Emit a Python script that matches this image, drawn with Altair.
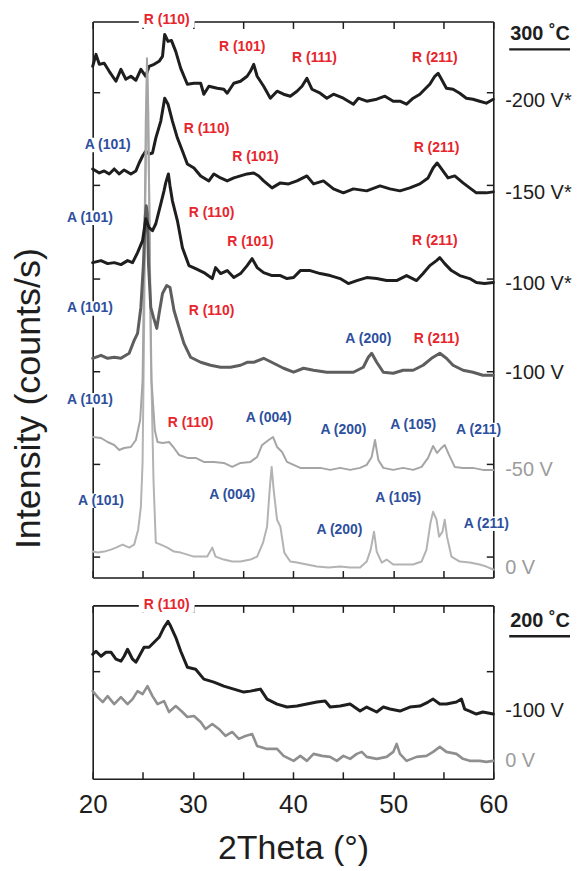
import altair as alt
import pandas as pd

# ---------------- data ----------------
# 2Theta (deg) and intensity (arbitrary, vertically offset units)
X_TICKS = [20, 25, 30, 35, 40, 45, 50, 55, 60]
X_LABELS = [20, 30, 40, 50, 60]
TOP_Y_TICKS = [21, 114, 207, 300, 394, 487]
BOT_Y_TICKS = [108]

m200s = [(20.0, 513), (20.33, 525), (20.66, 515), (21.15, 516), (21.65, 508), (22.32, 498), (22.82, 510),
         (23.31, 500), (23.81, 503), (24.31, 499), (24.81, 510), (25.30, 503), (25.63, 513), (26.13, 515),
         (26.63, 518), (26.97, 523), (27.19, 545), (27.52, 538), (27.86, 539), (28.29, 528), (28.79, 511),
         (29.45, 495), (30.11, 496), (30.78, 496), (31.10, 485), (31.60, 493), (32.44, 491), (33.09, 490),
         (33.43, 486), (34.09, 496), (34.76, 498), (35.42, 503), (35.75, 508), (36.08, 515), (36.42, 503),
         (37.07, 493), (37.74, 481), (38.41, 488), (39.06, 485), (39.73, 483), (40.40, 488), (40.90, 493),
         (41.39, 501), (41.89, 490), (42.72, 486), (43.38, 481), (44.04, 485), (45.03, 481), (46.03, 475),
         (46.53, 481), (47.36, 478), (48.36, 480), (49.18, 483), (50.01, 478), (50.68, 478), (51.34, 475),
         (52.00, 481), (52.67, 485), (53.16, 490), (53.66, 495), (54.16, 503), (54.49, 506), (54.83, 500),
         (55.32, 491), (55.98, 490), (56.65, 486), (57.31, 481), (57.97, 480), (58.64, 478), (59.30, 476),
         (60.0, 480)]

m150s = [(20.0, 410), (20.66, 406), (21.15, 408), (21.65, 405), (22.15, 410), (22.65, 405), (23.14, 409),
         (23.81, 405), (24.31, 408), (24.64, 416), (24.98, 423), (25.30, 428), (25.63, 425), (25.97, 426),
         (26.30, 441), (26.80, 458), (27.19, 481), (27.52, 475), (27.96, 458), (28.46, 441), (28.96, 428),
         (29.45, 415), (30.11, 411), (30.78, 403), (31.60, 398), (32.10, 405), (32.77, 401), (33.43, 398),
         (34.09, 401), (34.76, 403), (35.42, 405), (36.08, 406), (36.58, 403), (37.07, 398), (37.91, 391),
         (38.74, 396), (39.56, 395), (40.40, 398), (41.39, 403), (42.05, 395), (43.04, 398), (44.04, 390),
         (45.03, 386), (46.03, 390), (47.36, 388), (48.69, 393), (49.68, 390), (50.68, 388), (51.67, 391),
         (52.67, 395), (53.49, 401), (53.99, 411), (54.39, 416), (54.83, 410), (55.48, 401), (56.15, 403),
         (56.98, 396), (57.64, 391), (58.31, 386), (59.30, 386), (60.0, 387)]

m100s = [(20.0, 316), (20.83, 318), (21.49, 315), (22.15, 316), (22.82, 314), (23.48, 318), (23.98, 316),
         (24.48, 326), (24.98, 338), (25.30, 360), (25.63, 351), (25.97, 348), (26.30, 355), (26.80, 375),
         (27.12, 388), (27.29, 396), (27.56, 405), (27.72, 393), (27.96, 378), (28.46, 358), (28.96, 331),
         (29.61, 313), (30.28, 310), (31.10, 306), (31.94, 300), (32.27, 311), (32.77, 305), (33.43, 308),
         (34.09, 301), (34.76, 305), (35.42, 313), (35.92, 320), (36.42, 311), (37.07, 306), (37.91, 303),
         (38.74, 303), (39.40, 300), (40.06, 301), (40.73, 308), (41.72, 308), (42.72, 305), (43.71, 303),
         (44.71, 300), (45.53, 295), (46.37, 298), (47.36, 301), (48.36, 300), (49.35, 298), (50.35, 298),
         (51.34, 303), (52.34, 298), (52.99, 305), (53.66, 313), (54.33, 318), (54.66, 321), (55.15, 315),
         (55.82, 308), (56.65, 303), (57.64, 300), (58.31, 296), (59.13, 295), (60.0, 296)]

m100 = [(20.0, 220), (20.83, 223), (21.49, 220), (22.15, 221), (22.82, 220), (23.64, 225), (24.14, 238),
        (24.48, 245), (24.81, 271), (25.07, 315), (25.25, 363), (25.35, 373), (25.45, 365), (25.57, 315),
        (25.80, 271), (26.07, 261), (26.40, 250), (26.63, 265), (26.97, 285), (27.39, 293), (27.72, 291),
        (28.12, 268), (28.62, 251), (29.11, 235), (29.78, 221), (30.78, 216), (31.77, 213), (32.77, 211),
        (33.76, 211), (34.76, 213), (35.42, 216), (36.08, 216), (37.07, 220), (38.07, 215), (39.06, 210),
        (40.06, 206), (41.05, 210), (42.05, 208), (43.38, 206), (44.71, 206), (46.03, 206), (47.02, 211),
        (47.52, 221), (47.86, 225), (48.36, 216), (49.02, 206), (50.01, 205), (51.00, 208), (52.00, 208),
        (52.99, 213), (53.83, 220), (54.66, 225), (55.32, 220), (55.98, 213), (56.98, 208), (57.97, 206),
        (58.96, 203), (60.0, 203)]

m50 = [(20.0, 141), (20.83, 140), (21.49, 136), (22.15, 133), (22.65, 128), (23.14, 130), (23.81, 131),
       (24.31, 138), (24.74, 158), (24.98, 198), (25.16, 328), (25.30, 458), (25.42, 521), (25.55, 468),
       (25.70, 328), (25.87, 198), (26.20, 148), (26.47, 136), (26.97, 135), (27.62, 136), (28.12, 130),
       (28.62, 123), (29.45, 120), (30.28, 120), (31.10, 116), (32.10, 116), (33.09, 115), (33.93, 111),
       (34.76, 115), (35.75, 116), (36.42, 121), (36.92, 133), (37.57, 138), (38.01, 141), (38.41, 131),
       (38.91, 126), (39.40, 116), (40.06, 113), (40.73, 110), (41.72, 110), (42.72, 110), (43.71, 108),
       (44.71, 110), (45.70, 108), (46.70, 110), (47.36, 113), (47.86, 121), (48.19, 138), (48.52, 118),
       (49.02, 110), (50.01, 108), (51.00, 110), (52.00, 108), (52.84, 111), (53.49, 120), (53.99, 132),
       (54.39, 125), (54.83, 130), (55.15, 133), (55.58, 123), (56.15, 111), (56.98, 110), (57.97, 110),
       (58.96, 108), (60.0, 108)]

v0 = [(20.0, 26), (20.50, 25), (21.15, 26), (21.82, 28), (22.32, 30), (22.99, 33), (23.64, 30), (24.14, 33),
      (24.54, 48), (24.81, 71), (24.98, 115), (25.11, 228), (25.26, 378), (25.45, 508), (25.65, 378),
      (25.80, 228), (26.07, 98), (26.30, 35), (26.80, 33), (27.46, 30), (28.12, 26), (28.79, 25), (29.45, 23),
      (30.11, 21), (30.78, 21), (31.44, 21), (31.94, 30), (32.27, 21), (33.09, 18), (33.93, 16), (34.76, 16),
      (35.75, 18), (36.42, 21), (37.01, 35), (37.41, 51), (37.67, 88), (37.87, 111), (38.07, 88),
      (38.41, 58), (38.74, 51), (39.13, 25), (39.73, 16), (40.40, 15), (41.39, 13), (42.39, 11), (43.54, 10),
      (44.71, 11), (45.70, 10), (46.70, 10), (47.36, 16), (47.76, 28), (48.09, 46), (48.36, 26), (48.86, 15),
      (49.35, 18), (50.01, 13), (51.00, 13), (52.00, 13), (52.84, 16), (53.33, 28), (53.73, 55), (53.99, 66),
      (54.33, 58), (54.59, 41), (54.93, 46), (55.15, 58), (55.38, 41), (55.82, 21), (56.65, 16), (57.64, 15),
      (58.64, 13), (59.30, 11), (60.0, 8)]

b_m100 = [(20.0, 125), (20.33, 128), (20.83, 123), (21.32, 127), (21.82, 127), (22.32, 120), (22.82, 118),
          (23.14, 123), (23.48, 130), (23.98, 120), (24.31, 117), (24.64, 123), (25.13, 132), (25.63, 132),
          (26.13, 137), (26.63, 142), (27.12, 152), (27.52, 158), (27.79, 153), (28.29, 142), (28.79, 128),
          (29.45, 112), (30.28, 110), (31.10, 100), (32.10, 97), (33.09, 93), (34.09, 90), (35.08, 87),
          (35.75, 88), (36.75, 90), (37.41, 80), (38.41, 75), (39.40, 72), (40.40, 73), (41.39, 75),
          (42.39, 77), (43.21, 78), (43.71, 72), (44.71, 73), (45.70, 75), (46.70, 68), (47.36, 72),
          (48.36, 67), (49.02, 72), (49.68, 70), (50.68, 68), (51.67, 72), (52.67, 73), (53.49, 77),
          (53.99, 80), (54.66, 75), (55.32, 75), (56.32, 77), (56.82, 80), (57.14, 70), (57.64, 68),
          (58.31, 65), (58.96, 67), (60.0, 65)]

b_v0 = [(20.0, 88), (20.50, 82), (21.00, 77), (21.49, 83), (22.15, 75), (22.82, 82), (23.48, 75), (23.98, 80),
        (24.48, 88), (24.98, 85), (25.47, 93), (25.97, 83), (26.47, 75), (27.12, 78), (27.62, 67), (28.29, 73),
        (28.96, 67), (29.45, 62), (30.11, 63), (30.78, 57), (31.27, 50), (31.94, 55), (32.60, 50), (33.26, 43),
        (33.93, 47), (34.59, 40), (35.25, 43), (35.92, 45), (36.42, 33), (37.41, 30), (38.41, 30), (39.06, 23),
        (40.06, 18), (40.73, 23), (41.39, 18), (42.05, 25), (42.89, 23), (43.71, 22), (44.38, 18), (45.03, 23),
        (45.70, 20), (46.37, 25), (46.87, 27), (47.36, 22), (48.36, 20), (49.35, 22), (50.01, 27), (50.35, 35),
        (50.68, 25), (51.34, 18), (52.34, 22), (53.33, 23), (53.99, 27), (54.66, 32), (55.32, 27), (56.32, 25),
        (56.98, 20), (57.64, 18), (58.64, 18), (59.30, 17), (60.0, 18)]

peaks_top = [("R (110)", 27.39, 559, "R"), ("R (101)", 34.93, 532, "R"), ("R (111)", 42.15, 521, "R"),
             ("R (211)", 54.16, 521, "R"), ("A (101)", 21.49, 434, "A"), ("R (110)", 31.37, 450, "R"),
             ("R (101)", 36.25, 422, "R"), ("R (211)", 54.33, 431, "R"), ("A (101)", 19.73, 361, "A"),
             ("R (110)", 31.87, 366, "R"), ("R (101)", 35.75, 337, "R"), ("R (211)", 54.16, 338, "R"),
             ("A (101)", 19.73, 270, "A"), ("R (110)", 31.87, 267, "R"), ("A (200)", 47.52, 239, "A"),
             ("R (211)", 54.33, 239, "R"), ("A (101)", 19.73, 178, "A"), ("R (110)", 29.78, 155, "R"),
             ("A (004)", 37.57, 160, "A"), ("A (200)", 45.03, 148, "A"), ("A (105)", 52.00, 153, "A"),
             ("A (211)", 58.54, 148, "A"), ("A (101)", 20.83, 77, "A"), ("A (004)", 33.93, 83, "A"),
             ("A (200)", 44.64, 48, "A"), ("A (105)", 50.51, 80, "A"), ("A (211)", 59.30, 54, "A")]
peaks_bot = [("R (110)", 27.39, 174, "R")]

side_top = [("-200 V*", 478, "k"), ("-150 V*", 386, "k"), ("-100 V*", 295, "k"),
            ("-100 V", 205, "k"), ("-50 V", 108, "g"), ("0 V", 10, "g")]
side_bot = [("-100 V", 68, "k"), ("0 V", 18, "g")]

temp_top = ("300 \u02daC", 545, 530)
temp_bot = ("200 \u02daC", 158, 143)

# ---------------- styling ----------------
W = 402
FONT = "Liberation Sans"
INK = "#1e1e1e"
PEAK_COL = {"R": "#e8242c", "A": "#2d4f9e"}
SIDE_COL = {"k": "#1e1e1e", "g": "#9c9c9c"}
BOX = "M-1,-0.26H1V0.26H-1Z"


def curve(pairs, color, width, xs, ys):
    df = pd.DataFrame(pairs, columns=["tt", "I"])
    return alt.Chart(df).mark_line(color=color, strokeWidth=width, strokeJoin="round",
                                   strokeCap="round").encode(
        x=alt.X("tt:Q", scale=xs, axis=None),
        y=alt.Y("I:Q", scale=ys, axis=None),
        order="tt:Q")


def panel(curves, peaks, sides, temp, H, yticks, bottom_labels, ytitle):
    xs = alt.Scale(domain=[20, 60], nice=False, zero=False)
    ys = alt.Scale(domain=[0, H], nice=False, zero=False)
    frame = pd.DataFrame({"tt": [20, 60], "I": [0, H]})
    common = dict(labels=False, domain=True, domainColor=INK, domainWidth=1.6, ticks=True,
                  tickSize=7, tickWidth=1.5, tickColor=INK, grid=False)
    left_axis = alt.Axis(orient="right", offset=-W, values=yticks, **common,
                         title=ytitle if ytitle else None,
                         **(dict(titleX=-64, titleY=378, titleAngle=270, titleAlign="center",
                                 titleBaseline="middle", titleFontSize=36, titleFont=FONT,
                                 titleFontWeight="normal", titleColor=INK) if ytitle else {}))
    axA = alt.Chart(frame).mark_point(opacity=0).encode(
        x=alt.X("tt:Q", scale=xs, axis=alt.Axis(orient="top", offset=-H, values=X_TICKS,
                                               title=None, **common)),
        y=alt.Y("I:Q", scale=ys, axis=left_axis))
    axB = alt.Chart(frame).mark_point(opacity=0).encode(
        x=alt.X("tt:Q", scale=xs, axis=alt.Axis(orient="bottom", offset=-H, values=X_TICKS,
                                               title=None, **common)),
        y=alt.Y("I:Q", scale=ys, axis=alt.Axis(orient="left", offset=-W, values=yticks,
                                               title=None, **common)))
    layers = [axA, axB]
    if bottom_labels:
        axC = alt.Chart(frame).mark_point(opacity=0).encode(
            x=alt.X("tt:Q", scale=xs, axis=alt.Axis(
                orient="bottom", values=X_LABELS, ticks=False, domain=False, grid=False,
                labelFlush=False, labelFontSize=26, labelFont=FONT, labelColor=INK, labelPadding=13,
                title="2Theta (\u00b0)", titleFontSize=34, titleFont=FONT,
                titleFontWeight="normal", titleColor=INK, titlePadding=14)),
            y=alt.Y("I:Q", scale=ys, axis=None))
        layers.append(axC)
    for pairs, color, width in curves:
        layers.append(curve(pairs, color, width, xs, ys))

    pdf = pd.DataFrame(peaks, columns=["label", "tt", "I", "kind"])
    pdf["col"] = pdf["kind"].map(PEAK_COL)
    layers.append(alt.Chart(pdf).mark_point(shape=BOX, filled=True, fill="white", stroke=None,
                                            opacity=1, size=3136).encode(
        x=alt.X("tt:Q", scale=xs, axis=None), y=alt.Y("I:Q", scale=ys, axis=None)))
    layers.append(alt.Chart(pdf).mark_text(font=FONT, fontSize=14, fontWeight="bold",
                                           align="center", baseline="middle").encode(
        x=alt.X("tt:Q", scale=xs, axis=None), y=alt.Y("I:Q", scale=ys, axis=None),
        text="label:N", color=alt.Color("col:N", scale=None)))

    xr = alt.datum(60, scale=xs, axis=None)

    sdf = pd.DataFrame(sides, columns=["label", "I", "kind"])
    sdf["col"] = sdf["kind"].map(SIDE_COL)
    layers.append(alt.Chart(sdf).mark_text(font=FONT, fontSize=20, align="left",
                                           baseline="middle", dx=12).encode(
        x=xr, y=alt.Y("I:Q", scale=ys, axis=None),
        text="label:N", color=alt.Color("col:N", scale=None)))

    tdf = pd.DataFrame([temp], columns=["label", "I", "U"])
    layers.append(alt.Chart(tdf).mark_text(font=FONT, fontSize=20, fontWeight="bold", align="left",
                                           baseline="middle", dx=17, color=INK).encode(
        x=xr, y=alt.Y("I:Q", scale=ys, axis=None), text="label:N"))
    layers.append(alt.Chart(tdf).mark_rule(color=INK, strokeWidth=2.5, xOffset=16, x2Offset=77).encode(
        x=xr, x2=alt.datum(60), y=alt.Y("U:Q", scale=ys, axis=None)))

    return alt.layer(*layers).resolve_axis(x="independent", y="independent").properties(
        width=W, height=H)


top = panel([(m200s, INK, 3.0), (m150s, INK, 3.0), (v0, "#b3b3b3", 2.0), (m50, "#a5a5a5", 2.0),
             (m100, "#5e5e5e", 3.0), (m100s, INK, 3.0)],
            peaks_top, side_top, temp_top, 558, TOP_Y_TICKS, False, "Intensity (counts/s)")
bot = panel([(b_m100, INK, 3.0), (b_v0, "#8f8f8f", 2.6)],
            peaks_bot, side_bot, temp_bot, 174, BOT_Y_TICKS, True, None)

chart = alt.vconcat(top, bot, spacing=28, bounds="flush").properties(
    padding={"left": 2, "top": 3, "right": 0, "bottom": 0}
).configure_view(stroke=None).configure(background="white")

chart.save("out.html", embed_options={"renderer": "svg", "actions": False})
